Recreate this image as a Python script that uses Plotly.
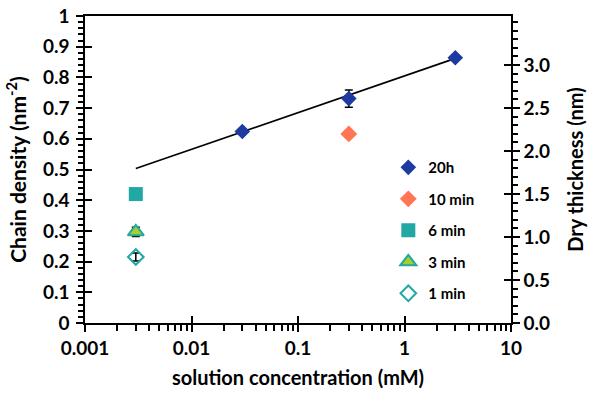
import plotly.graph_objects as go

# ---- data ----
conc_20h = [0.03, 0.3, 3]
dens_20h = [0.624, 0.731, 0.864]
err_20h = [0.008, 0.028, 0.008]

conc_10min = [0.3]
dens_10min = [0.616]

conc_6min = [0.003]
dens_6min = [0.420]

conc_3min = [0.003]
dens_3min = [0.297]
err_3min = [0.015]

conc_1min = [0.003]
dens_1min = [0.215]
err_1min = [0.013]

fit_x = [0.003, 3]
fit_y = [0.503, 0.862]

x_major = [0.001, 0.01, 0.1, 1, 10]
x_labels = ["0.001", "0.01", "0.1", "1", "10"]
x_minor = [m * d for d in [0.001, 0.01, 0.1, 1] for m in range(2, 10)]

thick_ticks = [0.0, 0.5, 1.0, 1.5, 2.0, 2.5, 3.0]
thick_labels = ["0.0", "0.5", "1.0", "1.5", "2.0", "2.5", "3.0"]
thick_max = 3.57

FONT = "Lato"
BLACK = "#000000"
TEAL = "#21A8A2"

fig = go.Figure()

fig.add_trace(go.Scatter(x=fit_x, y=fit_y, mode="lines",
                         line=dict(color=BLACK, width=1.6), showlegend=False,
                         hoverinfo="skip"))

fig.add_trace(go.Scatter(x=conc_20h, y=dens_20h, mode="markers", name="20h",
                         legendgroup="a",
                         marker=dict(symbol="diamond", size=12, color="#1C3A9F"),
                         error_y=dict(type="data", array=err_20h, color=BLACK,
                                      thickness=1.5, width=4)))
fig.add_trace(go.Scatter(x=conc_10min, y=dens_10min, mode="markers", name="10 min",
                         legendgroup="b",
                         marker=dict(symbol="diamond", size=13, color="#FF7556")))
fig.add_trace(go.Scatter(x=conc_6min, y=dens_6min, mode="markers", name="6 min",
                         legendgroup="c",
                         marker=dict(symbol="square", size=14, color=TEAL)))
fig.add_trace(go.Scatter(x=conc_3min, y=dens_3min, mode="markers", name="3 min",
                         legendgroup="d",
                         marker=dict(symbol="triangle-up", size=14, color="#AACD2B",
                                     line=dict(color=TEAL, width=2)),
                         error_y=dict(type="data", array=err_3min, color=BLACK,
                                      thickness=1.5, width=4)))
fig.add_trace(go.Scatter(x=conc_1min, y=dens_1min, mode="markers", name="1 min",
                         legendgroup="e",
                         marker=dict(symbol="diamond-open", size=12, color=TEAL,
                                     line=dict(color=TEAL, width=2)),
                         error_y=dict(type="data", array=err_1min, color=BLACK,
                                      thickness=1.5, width=4)))

# dummy traces to activate helper axes (inside halves of crossing ticks)
fig.add_trace(go.Scatter(x=[None], y=[None], xaxis="x2", yaxis="y", showlegend=False))
fig.add_trace(go.Scatter(x=[None], y=[None], xaxis="x", yaxis="y2", showlegend=False))
fig.add_trace(go.Scatter(x=[None], y=[None], xaxis="x", yaxis="y3", showlegend=False))
fig.add_trace(go.Scatter(x=[None], y=[None], xaxis="x", yaxis="y4", showlegend=False))

tickfont = dict(family=FONT, size=19, color=BLACK, weight="bold")
titlefont = dict(family=FONT, size=20, color=BLACK, weight="bold")
ltitlefont = dict(family=FONT, size=21, color=BLACK, weight="bold")

fig.update_layout(
    width=601, height=419,
    margin=dict(l=85, r=90, t=16, b=96, autoexpand=False),
    paper_bgcolor="white", plot_bgcolor="white",
    font=dict(family=FONT, color=BLACK),
    xaxis=dict(type="log", range=[-3, 1], tickvals=x_major, ticktext=x_labels,
               ticks="outside", ticklen=7, tickwidth=1.5, tickcolor=BLACK,
               showline=True, linecolor=BLACK, linewidth=1.5, mirror=True,
               showgrid=False, zeroline=False, tickfont=tickfont, automargin=False,
               ticklabelstandoff=0,
               minor=dict(tickvals=x_minor, ticks="outside", ticklen=6,
                          tickwidth=1.5, tickcolor=BLACK, showgrid=False),
               title=dict(text="solution concentration (mM)", font=titlefont,
                          standoff=13)),
    xaxis2=dict(type="log", range=[-3, 1], overlaying="x", anchor="y", side="bottom",
                tickvals=x_major, ticks="inside", ticklen=7, tickwidth=1.5,
                tickcolor=BLACK, showticklabels=False, showline=False,
                showgrid=False, zeroline=False, automargin=False),
    yaxis=dict(range=[0, 1], dtick=0.1, tick0=0,
               ticks="outside", ticklen=7, tickwidth=1.5, tickcolor=BLACK,
               showline=True, linecolor=BLACK, linewidth=1.5,
               showgrid=False, zeroline=False, tickfont=tickfont, automargin=False,
               ticklabelstandoff=3,
               minor=dict(dtick=0.02, ticks="outside", ticklen=5, tickwidth=1.5,
                          tickcolor=BLACK, showgrid=False),
               title=dict(text="Chain density (nm<sup>-2</sup>)", font=ltitlefont,
                          standoff=11)),
    yaxis3=dict(range=[0, 1], dtick=0.1, tick0=0, overlaying="y", side="left",
                anchor="x", ticks="inside", ticklen=7, tickwidth=1.5,
                tickcolor=BLACK, showticklabels=False, showline=False,
                showgrid=False, zeroline=False, automargin=False),
    yaxis2=dict(range=[0, thick_max], tickvals=thick_ticks, ticktext=thick_labels,
                overlaying="y", side="right", anchor="x",
                ticks="outside", ticklen=7, tickwidth=1.5, tickcolor=BLACK,
                showline=True, linecolor=BLACK, linewidth=1.5,
                showgrid=False, zeroline=False, tickfont=tickfont, automargin=False,
                minor=dict(dtick=0.1, ticks="outside", ticklen=5, tickwidth=1.5,
                           tickcolor=BLACK, showgrid=False),
                title=dict(text="Dry thickness (nm)", font=titlefont, standoff=20)),
    yaxis4=dict(range=[0, thick_max], tickvals=thick_ticks, overlaying="y",
                side="right", anchor="x", ticks="inside", ticklen=7,
                tickwidth=1.5, tickcolor=BLACK, showticklabels=False,
                showline=False, showgrid=False, zeroline=False, automargin=False),
    legend=dict(x=0.712, y=0.56, xanchor="left", yanchor="top",
                bgcolor="rgba(0,0,0,0)", borderwidth=0,
                font=dict(family=FONT, size=15, color=BLACK, weight="bold"),
                tracegroupgap=9, itemwidth=30),
    showlegend=True,
)

fig.write_html("out.html", config={"displayModeBar": False},
               post_script="document.body.style.margin='0px';")
